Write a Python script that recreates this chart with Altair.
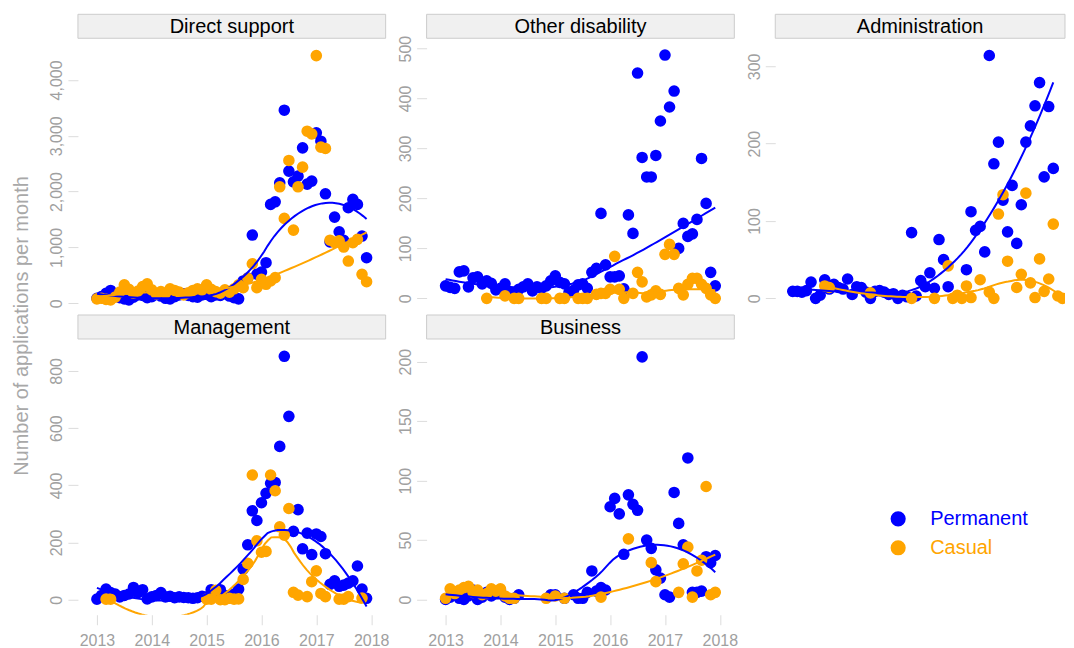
import altair as alt
import pandas as pd

N = None
START_YEAR = 2013
SERIES = ["Permanent", "Casual"]
SERIES_COLORS = ["#0000ff", "#ffa500"]
PANELS = ["Direct support", "Other disability", "Administration", "Management", "Business"]
X_TICKS = [2013, 2014, 2015, 2016, 2017, 2018]
Y_TITLE = "Number of applications per month"

# monthly values, Jan 2013 .. Dec 2017 (None = no point)
ds_perm = [90, 120, 180, 230, 150, 100, 80, 60, 110, 150, 140, 100, 120, 160, 130, 90, 80, 120, 150, 170,
           140, 120, 110, 150, 160, 120, 150, 140, 170, 130, 100, 80, 400, 450, 1222, 520, 560, 727, 1771, 1818,
           2158, 3458, 2367, 2176, 2277, 2784, 2134, 2188, 3052, 2903, 1961, 1100, 1544, 1281, 1127, 1711, 1860, 1771, 1204, 816]
ds_cas = [80, 90, 70, 60, 110, 200, 330, 250, 180, 220, 300, 350, 240, 170, 210, 180, 260, 230, 200, 150,
          190, 230, 260, 240, 330, 250, 210, 180, 240, 200, 260, 330, 280, 447, 708, 279, 429, 340, 399, 459,
          2086, 1520, 2558, 1311, 2086, 2438, 3082, 3034, 4436, 2796, 2773, 1130, 1090, 1120, 1007, 757, 1084, 1145, 519, 387]

od_perm = [25, 22, 20, 53, 55, 23, 41, 43, 29, 35, 30, 17, 20, 29, 12, 10, 18, 23, 29, 15,
           23, 20, 25, 35, 45, 32, 29, 12, 16, 27, 29, 20, 52, 60, 170, 67, 43, 43, 45, 19,
           167, 130, 451, 282, 243, 243, 286, 355, 487, 383, 415, 100, 150, 124, 129, 158, 280, 190, 52, 25]
od_cas = [N, N, N, N, N, N, N, N, N, 0, N, N, N, 5, N, 0, 0, N, N, N,
          N, 0, 0, N, N, 0, 0, N, N, 0, 0, 0, N, 8, 10, 10, 18, 84, 18, 0,
          N, 10, 52, 33, 3, 7, 15, 8, 88, 108, 88, 20, 7, 28, 40, 40, 28, 20, 7, 0]

adm_perm = [9, 9, 8, 10, 21, 0, 4, 24, 12, 18, 14, 12, 25, 5, 15, 14, 8, 0, 9, 10,
            8, 5, 6, 0, 4, 2, 85, 3, 23, 15, 33, 13, 76, 50, 15, N, N, N, 37, 112,
            88, 93, 60, 314, 174, 202, 127, 86, 146, 71, 121, 202, 223, 249, 279, 157, 248, 168, N, N]
adm_cas = [N, N, N, N, N, N, N, 16, 14, N, N, N, N, N, N, N, N, 7, N, N,
           N, N, N, N, N, N, 0, N, N, N, N, 0, N, N, 42, 0, 4, 0, 16, 1,
           N, 24, N, 8, 0, 109, 134, 48, N, 14, 31, 136, 20, 1, 51, 9, 25, 96, 3, 0]

mgmt_perm = [2, 15, 37, 25, 20, 10, 15, 20, 43, 25, 35, 3, 10, 15, 25, 10, 12, 7, 10, 8,
             7, 5, 7, 12, 10, 35, 20, 35, 15, 10, 20, 37, 107, 192, 311, 277, 339, 372, 407, 410,
             536, 851, 641, 239, 315, 178, 233, 158, 230, 221, 161, 54, 66, 47, 51, 58, 66, 118, 37, 5]
mgmt_cas = [N, N, 2, 2, N, N, N, N, N, N, N, N, N, N, N, N, N, N, N, N,
            N, N, N, N, 2, 2, 33, 0, 0, 5, 2, 3, 71, 127, 436, 206, 166, 169, 436, 381,
            255, 226, 319, 26, 16, N, 11, 63, 101, 22, 11, N, N, 2, 2, 11, N, N, 6, N]

bus_perm = [0, 2, 5, 1, 0, 3, 8, 0, 2, 6, 3, 5, 8, 2, 0, 1, 4, N, N, N,
            N, N, N, 4, 4, N, 1, N, 4, 1, 1, 6, 24, 7, 10, 8, 78, 85, 72, 38,
            88, 80, 75, 204, 50, 43, 25, 18, 4, 2, 90, 64, 46, 119, 6, 6, 7, 36, 31, 37]
bus_cas = [1, 9, 5, 8, 10, 11, 6, 8, 4, 5, 9, 7, 9, 3, 1, 1, N, N, N, N,
           N, N, 1, N, 3, N, 1, N, N, N, N, N, N, N, 2, N, N, N, N, N,
           51, N, N, N, N, 31, 15, N, N, N, N, 6, 30, 44, 2, 24, 33, 95, 4, 6]

PANEL_DATA = {
    "Direct support": (ds_perm, ds_cas),
    "Other disability": (od_perm, od_cas),
    "Administration": (adm_perm, adm_cas),
    "Management": (mgmt_perm, mgmt_cas),
    "Business": (bus_perm, bus_cas),
}
Y_DOMAINS = {
    "Direct support": [-174, 4728],
    "Other disability": [-29.4, 518.6],
    "Administration": [-19, 335],
    "Management": [-52.4, 908],
    "Business": [-12.8, 218.2],
}
Y_TICKS = {
    "Direct support": [0, 1000, 2000, 3000, 4000],
    "Other disability": [0, 100, 200, 300, 400, 500],
    "Administration": [0, 100, 200, 300],
    "Management": [0, 200, 400, 600, 800],
    "Business": [0, 50, 100, 150, 200],
}

rows = []
for p in PANELS:
    for s, vals in zip(SERIES, PANEL_DATA[p]):
        for m, v in enumerate(vals):
            if v is not None:
                rows.append({"panel": p, "type": s, "t": m / 12.0, "v": v})
df = pd.DataFrame(rows)

GRAY = "#a0a0a0"
TICK = "#dcdcdc"
FONT = "Liberation Sans"
PX_PER_YEAR = 54.9
HEADER_H = 24
SPAN = 0.75        # loess span (local quadratic, tricube weights)
ROBUST_ITERS = 3   # bisquare robustness re-weightings (loess family "symmetric")
GRID_N = 80        # evaluation points per smooth

color_scale = alt.Scale(domain=SERIES, range=SERIES_COLORS)
tick_pos = [yr - START_YEAR for yr in X_TICKS]


def local_fit(ch, group, eval_field, keep):
    """Weighted local quadratic fit at each eval point; rows carry neighbour array 'pts'."""
    ch = (ch.transform_flatten(["pts"])
          .transform_calculate(px="datum.pts.t")
          .transform_calculate(py="datum.pts.v")
          .transform_calculate(prw="datum.pts.rw")
          .transform_calculate(dx=f"datum.px - datum.{eval_field}")
          .transform_calculate(ad="abs(datum.dx)")
          .transform_window(rk="row_number()", groupby=group, sort=[alt.SortField("ad", order="ascending")])
          .transform_calculate(dq=f"datum.rk <= floor({SPAN} * datum.n) ? datum.ad : 0")
          .transform_joinaggregate(h="max(dq)", groupby=group)
          .transform_calculate(u="datum.h > 0 ? datum.ad / datum.h : 1")
          .transform_calculate(w="(datum.u < 1 ? pow(1 - pow(datum.u, 3), 3) : 0) * datum.prw")
          .transform_calculate(s1="datum.w * datum.dx")
          .transform_calculate(s2="datum.w * pow(datum.dx, 2)")
          .transform_calculate(s3="datum.w * pow(datum.dx, 3)")
          .transform_calculate(s4="datum.w * pow(datum.dx, 4)")
          .transform_calculate(t0="datum.w * datum.py")
          .transform_calculate(t1="datum.w * datum.dx * datum.py")
          .transform_calculate(t2="datum.w * pow(datum.dx, 2) * datum.py")
          .transform_aggregate(
              [alt.AggregatedFieldDef(op="sum", field=f, **{"as": f.upper()})
               for f in ["w", "s1", "s2", "s3", "s4", "t0", "t1", "t2"]],
              groupby=group + keep)
          .transform_calculate(
              det="datum.W * (datum.S2 * datum.S4 - datum.S3 * datum.S3)"
                  " - datum.S1 * (datum.S1 * datum.S4 - datum.S3 * datum.S2)"
                  " + datum.S2 * (datum.S1 * datum.S3 - datum.S2 * datum.S2)")
          .transform_calculate(
              deta="datum.T0 * (datum.S2 * datum.S4 - datum.S3 * datum.S3)"
                   " - datum.S1 * (datum.T1 * datum.S4 - datum.S3 * datum.T2)"
                   " + datum.S2 * (datum.T1 * datum.S3 - datum.S2 * datum.T2)")
          .transform_calculate(fit="datum.deta / datum.det"))
    return ch


def loess_line(base, x_of, y_of, c):
    ch = (base.transform_window(pid="row_number()", groupby=["type"],
                                sort=[alt.SortField("t", order="ascending")])
          .transform_calculate(rw="1"))
    for _ in range(ROBUST_ITERS):
        ch = ch.transform_joinaggregate(
            [alt.JoinAggregateFieldDef(op="values", field="v", **{"as": "pts"}),
             alt.JoinAggregateFieldDef(op="count", field="t", **{"as": "n"})],
            groupby=["type"])
        ch = local_fit(ch, ["type", "pid"], "t", ["t", "v", "n"])
        ch = (ch.transform_calculate(res="abs(datum.v - datum.fit)")
              .transform_joinaggregate(mres="median(res)", groupby=["type"])
              .transform_calculate(rr="datum.mres > 0 ? datum.res / (6 * datum.mres) : 0")
              .transform_calculate(rw="datum.rr < 1 ? pow(1 - datum.rr * datum.rr, 2) : 0"))
    ch = (ch.transform_aggregate(
            [alt.AggregatedFieldDef(op="values", field="v", **{"as": "pts"}),
             alt.AggregatedFieldDef(op="min", field="t", **{"as": "tmin"}),
             alt.AggregatedFieldDef(op="max", field="t", **{"as": "tmax"}),
             alt.AggregatedFieldDef(op="count", field="t", **{"as": "n"})],
            groupby=["type"])
          .transform_calculate(grid=f"sequence(0, {GRID_N})")
          .transform_flatten(["grid"])
          .transform_calculate(e=f"datum.tmin + datum.grid * (datum.tmax - datum.tmin) / {GRID_N - 1}"))
    ch = local_fit(ch, ["type", "grid"], "e", ["e"])
    return ch.mark_line(strokeWidth=2, clip=True).encode(
        x=x_of("e"), y=y_of("fit"), color=c, order="e:Q")


def make_panel(name, width, plot_h, show_x, x_offset=19.0, with_title=False):
    d = df[df["panel"] == name]
    total_h = HEADER_H + 1 + plot_h
    x0 = -x_offset / PX_PER_YEAR
    xdom = [x0, x0 + width / PX_PER_YEAR]
    if show_x:
        xaxis = alt.Axis(values=tick_pos, labelExpr=f"format(datum.value + {START_YEAR}, 'd')",
                         labelColor=GRAY, labelFontSize=16, labelFont=FONT,
                         tickColor=TICK, tickSize=10, tickWidth=1, domain=False, grid=False,
                         labelPadding=8, title=None)
    else:
        xaxis = None
    yaxis = alt.Axis(values=Y_TICKS[name], format=",.0f", labelAngle=270, labelColor=GRAY,
                     labelFontSize=16, labelFont=FONT, tickColor=TICK, tickSize=10, tickWidth=1,
                     domain=False, grid=False, labelPadding=3, title=None)

    def x_of(f):
        return alt.X(f"{f}:Q", scale=alt.Scale(domain=xdom, nice=False, zero=False), axis=xaxis)

    def y_of(f):
        return alt.Y(f"{f}:Q", scale=alt.Scale(domain=Y_DOMAINS[name], nice=False, zero=False,
                                               range=[total_h, HEADER_H + 1]), axis=yaxis)

    c = alt.Color("type:N", scale=color_scale, legend=None)
    base = alt.Chart(d)
    pts = base.mark_circle(size=135, opacity=1, clip=True).encode(x=x_of("t"), y=y_of("v"), color=c)
    line = loess_line(base, x_of, y_of, c)

    hdf = pd.DataFrame({"panel": [name]})
    hrect = alt.Chart(hdf).mark_rect(fill="#f0f0f0", stroke="#cccccc", strokeWidth=1).encode(
        x=alt.value(0), x2=alt.value(width), y=alt.value(0), y2=alt.value(HEADER_H))
    htext = alt.Chart(hdf).mark_text(fontSize=20, font=FONT, color="black", baseline="middle",
                                     align="center").encode(
        text="panel:N", x=alt.value(width / 2), y=alt.value(HEADER_H / 2 + 1))
    layers = [hrect, htext, pts, line]
    if with_title:
        tdf = pd.DataFrame({"title": [Y_TITLE]})
        ttl = alt.Chart(tdf).mark_text(angle=270, fontSize=20, font=FONT, color="#a8a8a8",
                                       align="center", baseline="middle").encode(
            text="title:N", x=alt.value(-56), y=alt.value(312))
        layers.append(ttl)
    return alt.layer(*layers).resolve_scale(x="shared", y="shared").properties(width=width, height=total_h)


def make_legend(width, height):
    ldf = pd.DataFrame({"type": SERIES})
    ysc = alt.Scale(type="point", domain=SERIES, range=[204, 233], padding=0)
    y = alt.Y("type:N", scale=ysc, axis=None)
    c = alt.Color("type:N", scale=color_scale, legend=None)
    dots = alt.Chart(ldf).mark_circle(size=230, opacity=1).encode(x=alt.value(123), y=y, color=c)
    labels = alt.Chart(ldf).mark_text(fontSize=20, font=FONT, align="left", baseline="middle").encode(
        x=alt.value(155), y=y, color=c, text="type:N")
    return alt.layer(dots, labels).properties(width=width, height=height)


W = 308
W3 = 290
H1 = 274
H2 = 275

cells = [
    make_panel("Direct support", W, H1, False, with_title=True),
    make_panel("Other disability", W, H1, False),
    make_panel("Administration", W3, H1, False, x_offset=17.5),
    make_panel("Management", W, H2, True),
    make_panel("Business", W, H2, True),
    make_legend(W3, HEADER_H + 1 + H2),
]

chart = alt.concat(*cells, columns=3, spacing={"row": 2, "column": 41}, bounds="flush").properties(
    padding={"left": 4, "top": 5, "right": 0, "bottom": 0}
).configure_view(strokeWidth=0)

chart.save("out.html", embed_options={"renderer": "svg", "actions": False})
